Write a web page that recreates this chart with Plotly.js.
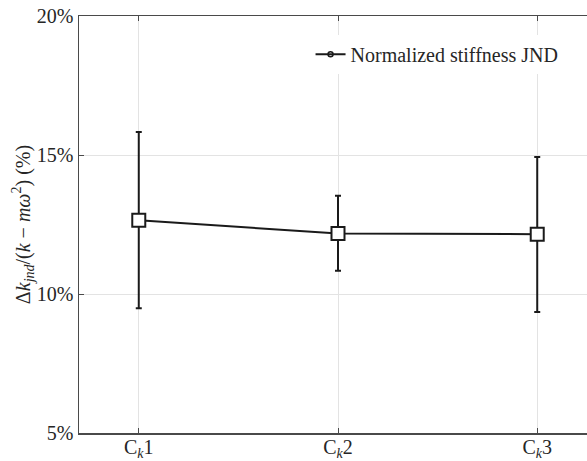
<!DOCTYPE html>
<html>
<head>
<meta charset="utf-8">
<script src="https://cdn.plot.ly/plotly-3.0.1.min.js"></script>
<style>
html,body{margin:0;padding:0;overflow:hidden;background:#fff;}
#chart{width:600px;height:461px;}
</style>
</head>
<body>
<div id="chart"></div>
<script>
const categories = ["C<sub><i>k</i></sub>1", "C<sub><i>k</i></sub>2", "C<sub><i>k</i></sub>3"];
const meanJND = [12.65, 12.18, 12.15];
const upperJND = [15.83, 13.53, 14.93];
const lowerJND = [9.49, 10.84, 9.35];
const yTickVals = [5, 10, 15, 20];
const yTickText = ["5%", "10%", "15%", "20%"];
const seriesName = "Normalized stiffness JND";

const xIdx = categories.map((c, i) => i);
const errPlus = upperJND.map((u, i) => u - meanJND[i]);
const errMinus = meanJND.map((m, i) => m - lowerJND[i]);

const font = {family: "'Liberation Serif', 'Times New Roman', Times, serif", size: 20, color: "#262626"};

const trace = {
  x: xIdx,
  y: meanJND,
  type: "scatter",
  mode: "lines+markers",
  name: seriesName,
  showlegend: false,
  line: {color: "#1a1a1a", width: 2},
  marker: {symbol: "square", size: 13, color: "#ffffff", line: {color: "#1a1a1a", width: 2}},
  error_y: {type: "data", symmetric: false, array: errPlus, arrayminus: errMinus,
            color: "#1a1a1a", thickness: 2, width: 3}
};

const legendTrace = {
  x: [null], y: [null],
  type: "scatter",
  mode: "lines+markers",
  name: seriesName,
  showlegend: true,
  line: {color: "#1a1a1a", width: 2},
  marker: {symbol: "circle-open", size: 5, color: "#1a1a1a", line: {color: "#1a1a1a", width: 1.5}}
};

const layout = {
  width: 600, height: 461,
  margin: {l: 79, r: 3, t: 16, b: 28},
  paper_bgcolor: "#ffffff",
  plot_bgcolor: "#ffffff",
  font: font,
  showlegend: true,
  legend: {x: 0.447, y: 0.955, xanchor: "left", yanchor: "top",
           bgcolor: "rgba(255,255,255,1)", borderwidth: 0, font: font},
  xaxis: {
    range: [-0.3, 2.3],
    tickvals: xIdx, ticktext: categories,
    showgrid: true, gridcolor: "#e3e3e3", gridwidth: 1,
    showline: true, linecolor: "#4a4a4a", linewidth: 1.5, mirror: "ticks",
    ticks: "inside", ticklen: 5, tickcolor: "#4a4a4a", tickwidth: 1,
    ticklabelstandoff: -5,
    zeroline: false, tickfont: font
  },
  yaxis: {
    range: [5, 20],
    tickvals: yTickVals, ticktext: yTickText,
    showgrid: true, gridcolor: "#e3e3e3", gridwidth: 1,
    showline: true, linecolor: "#4a4a4a", linewidth: 1.5, mirror: "ticks",
    ticks: "inside", ticklen: 5, tickcolor: "#4a4a4a", tickwidth: 1,
    zeroline: false, tickfont: font,
    title: {text: "Δ<i>k</i><sub><i>jnd</i></sub>/(<i>k</i> − <i>mω</i><sup>2</sup>) (%)", font: font, standoff: 1}
  }
};

Plotly.newPlot("chart", [trace, legendTrace], layout, {displayModeBar: false, staticPlot: true});
</script>
</body>
</html>
